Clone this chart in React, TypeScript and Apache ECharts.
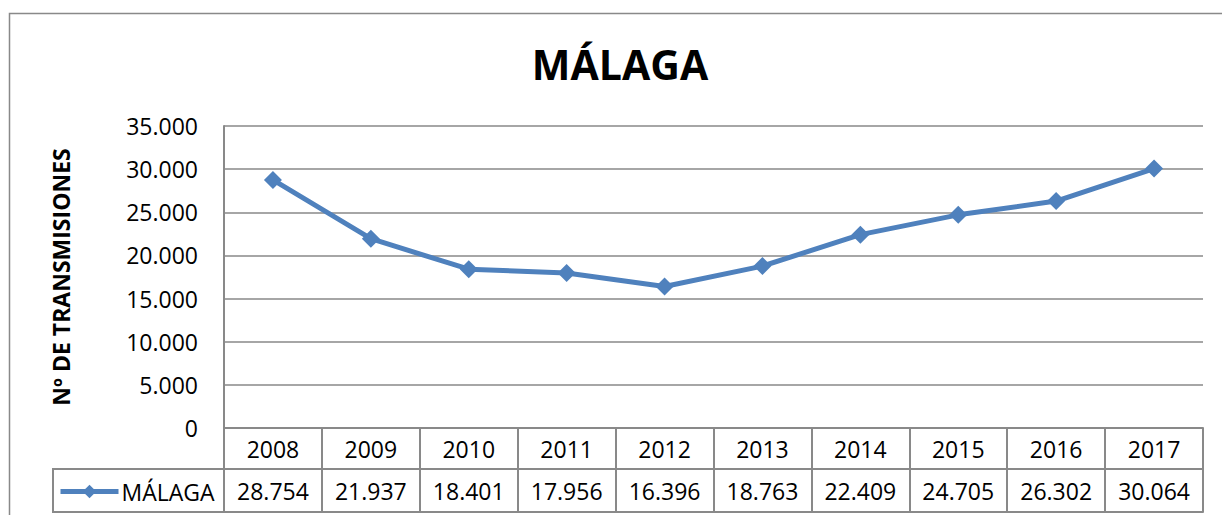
import React, { useEffect, useRef } from "react";
import * as echarts from "echarts";

const years = ["2008", "2009", "2010", "2011", "2012", "2013", "2014", "2015", "2016", "2017"];
const malaga = [28754, 21937, 18401, 17956, 16396, 18763, 22409, 24705, 26302, 30064];
const seriesName = "MÁLAGA";
const chartTitle = "MÁLAGA";
const yAxisTitle = "Nº DE TRANSMISIONES";

const fmt = (v: number) => String(v).replace(/\B(?=(\d{3})+(?!\d))/g, ".");

const FONT = "'Open Sans', sans-serif";
const GRAY = "#898989";
const BLUE = "#4f81bd";

export default function App() {
  const ref = useRef<HTMLDivElement>(null);
  useEffect(() => {
    document.body.style.margin = "0";
    const chart = echarts.init(ref.current!, undefined, { renderer: "svg" });
    chart.setOption({
      animation: false,
      textStyle: { fontFamily: FONT },
      grid: { left: 224, top: 126, right: 19, bottom: 87, containLabel: false },
      legend: {
        data: [seriesName],
        left: 58,
        top: 480,
        itemWidth: 58,
        itemHeight: 17,
        itemGap: 0,
        padding: 0,
        lineStyle: { width: 5 },
        textStyle: { fontFamily: FONT, fontSize: 23, color: "#000", padding: [0, 0, 0, -2] },
      },
      graphic: [
        {
          type: "rect",
          shape: { x: 9.5, y: 13.5, width: 1240, height: 540 },
          style: { fill: "none", stroke: GRAY, lineWidth: 1.5 },
          silent: true,
        },
        {
          type: "rect",
          shape: { x: 53, y: 469, width: 171, height: 43 },
          style: { fill: "none", stroke: GRAY, lineWidth: 2 },
          silent: true,
        },
        {
          type: "text",
          x: 620,
          y: 64,
          style: {
            text: chartTitle,
            fontFamily: FONT,
            fontSize: 41,
            fontWeight: "bold",
            fill: "#000",
            align: "center",
            verticalAlign: "middle",
          },
        },
      ],
      xAxis: [
        {
          type: "category",
          data: years,
          position: "bottom",
          boundaryGap: true,
          axisLine: { show: true, lineStyle: { color: GRAY, width: 2 } },
          axisTick: { show: true, length: 41, interval: 0, lineStyle: { color: GRAY, width: 2 } },
          axisLabel: {
            interval: 0,
            margin: 0,
            lineHeight: 41,
            fontSize: 23,
            color: "#000",
            fontFamily: FONT,
          },
          splitLine: { show: false },
        },
        {
          type: "category",
          data: years,
          position: "bottom",
          offset: 41,
          boundaryGap: true,
          axisLine: { show: true, lineStyle: { color: GRAY, width: 2 } },
          axisTick: { show: true, length: 43, interval: 0, lineStyle: { color: GRAY, width: 2 } },
          axisLabel: {
            interval: 0,
            margin: 0,
            lineHeight: 43,
            fontSize: 23,
            color: "#000",
            fontFamily: FONT,
            formatter: (_v: string, i: number) => fmt(malaga[i]),
          },
          splitLine: { show: false },
        },
        {
          type: "category",
          data: years,
          position: "bottom",
          offset: 84,
          axisLine: { show: true, lineStyle: { color: GRAY, width: 2 } },
          axisTick: { show: false },
          axisLabel: { show: false },
          splitLine: { show: false },
        },
      ],
      yAxis: {
        type: "value",
        min: 0,
        max: 35000,
        interval: 5000,
        name: yAxisTitle,
        nameLocation: "middle",
        nameGap: 152,
        nameRotate: 90,
        nameTextStyle: { fontFamily: FONT, fontSize: 23, fontWeight: "bold", color: "#000" },
        axisLine: { show: true, lineStyle: { color: GRAY, width: 2 } },
        axisTick: { show: false },
        axisLabel: {
          margin: 26,
          fontSize: 23,
          color: "#000",
          fontFamily: FONT,
          formatter: (v: number) => fmt(v),
        },
        splitLine: { show: true, lineStyle: { color: GRAY, width: 1.5 } },
      },
      series: [
        {
          name: seriesName,
          type: "line",
          data: malaga,
          xAxisIndex: 0,
          symbol: "diamond",
          symbolSize: 18,
          lineStyle: { color: BLUE, width: 5 },
          itemStyle: { color: BLUE },
        },
      ],
    });
    return () => chart.dispose();
  }, []);
  return <div ref={ref} style={{ width: 1222, height: 515 }} />;
}
